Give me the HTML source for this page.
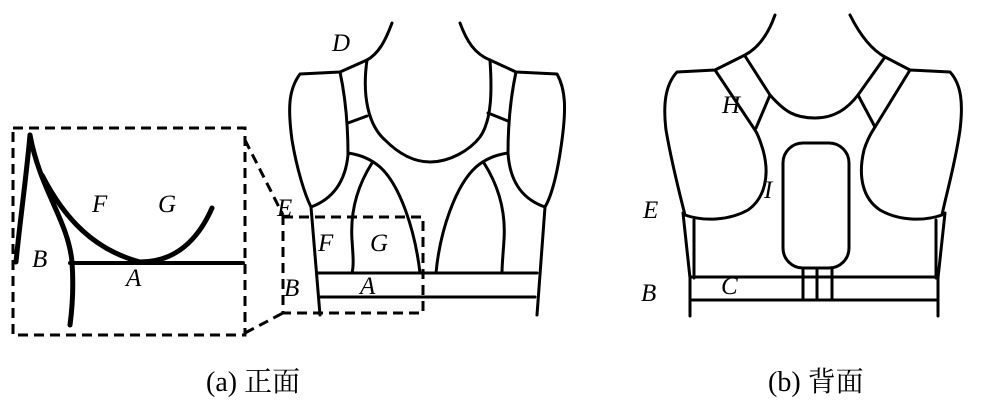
<!DOCTYPE html>
<html><head><meta charset="utf-8"><style>
html,body{margin:0;padding:0;background:#fff;width:1000px;height:401px;overflow:hidden}
svg{display:block}
.l{fill:none;stroke:#000;stroke-width:3;stroke-linecap:round;stroke-linejoin:round}
.t{stroke-width:5}
.d{fill:none;stroke:#000;stroke-width:3;stroke-dasharray:10,6}
text{font-family:"Liberation Serif",serif;font-style:italic;font-size:25px}
.c{font-style:normal;font-family:"Liberation Serif","Noto Serif CJK SC",serif;font-size:28px}
</style></head><body>
<svg width="1000" height="401" viewBox="0 0 1000 401">
<!-- inset -->
<rect class="d" x="13" y="128" width="232" height="207"/>
<line class="d" x1="245" y1="140" x2="283" y2="215"/>
<line class="d" x1="245" y1="333" x2="283" y2="313"/>
<path class="l t" d="M30,135 C26,180 20,220 16,262"/>
<path class="l t" d="M30,135 C40,190 68,220 72,262 C74,290 72,310 70,325"/>
<path class="l t" d="M42,175 C65,220 95,250 140,262 C175,262 198,240 212,208"/>
<line class="l" x1="70" y1="263" x2="243" y2="263" style="stroke-width:4"/>
<text x="92" y="212">F</text><text x="158" y="212">G</text><text x="32" y="267">B</text><text x="126" y="286">A</text>
<!-- front -->
<rect class="d" x="283" y="217" width="140" height="96"/>
<path class="l" d="M392,23 C385,42 378,54 367,60 L340,72 L300,74 C288,90 288,110 292,140 C297,170 305,195 311,207 C330,200 345,185 348,155 M311,207 L320,315"/>
<path class="l" d="M340,72 C346,100 348,130 348,155 M367,60 C362,95 368,125 385,140 C400,155 415,162 430,162 C450,162 470,150 480,137 C492,120 492,90 490,60 M348,123 L367,116 M488,113 L508,121"/>
<path class="l" d="M460,23 C467,42 475,54 490,60 L516,72 L557,74 C566,90 566,110 562,140 C558,170 552,195 545,207 C525,200 510,185 508,153 M545,207 L537,315"/>
<path class="l" d="M516,72 C510,100 508,130 508,153"/>
<path class="l" d="M348,153 C362,155 372,160 380,167 C400,185 415,230 420,273 M372,163 C358,185 350,210 352,240 C353,255 354,265 352,273"/>
<path class="l" d="M508,153 C494,155 484,160 476,167 C456,185 440,230 436,273 M484,163 C498,185 506,210 504,240 C503,255 502,265 502,273"/>
<line class="l" x1="318" y1="273" x2="537" y2="273"/><line class="l" x1="320" y1="297" x2="535" y2="297"/>
<text x="332" y="51">D</text><text x="277" y="216">E</text><text x="318" y="251">F</text><text x="370" y="251">G</text><text x="284" y="296">B</text><text x="360" y="294">A</text>
<!-- back -->
<path class="l" d="M775,15 C768,35 758,48 745,55 L715,70 L677,72 C665,85 663,105 666,130 C672,165 680,195 685,215 C705,222 730,220 748,210 C765,198 770,175 763,150 C760,140 757,133 755,130 L715,70"/>
<path class="l" d="M745,56 L770,95 C785,112 795,118 815,118 C835,118 848,108 858,95 L885,57 C872,50 860,35 850,15"/>
<path class="l" d="M770,95 L756,128 M858,95 L875,127"/>
<path class="l" d="M885,57 L910,70 L950,72 C962,85 963,105 960,130 C955,165 946,195 942,215 C922,222 897,220 880,210 C862,198 858,175 864,150 C867,140 871,133 875,127 L910,70"/>
<rect class="l" x="783" y="143" width="66" height="125" rx="20"/>
<path class="l" d="M683,213 L690,278 L690,316 M694,220 L694,278 M945,213 L938,278 L938,316 M936,220 L936,278"/>
<line class="l" x1="690" y1="277" x2="938" y2="277"/><line class="l" x1="690" y1="300" x2="938" y2="300"/>
<path class="l" d="M803,268 L803,300 M832,268 L832,300 M817,268 L817,300"/>
<text x="722" y="113">H</text><text x="764" y="198">I</text><text x="643" y="218">E</text><text x="641" y="301">B</text><text x="721" y="294">C</text>
<text class="c" x="206" y="391">(a) 正面</text>
<text class="c" x="768" y="391">(b) 背面</text>
</svg>
</body></html>
